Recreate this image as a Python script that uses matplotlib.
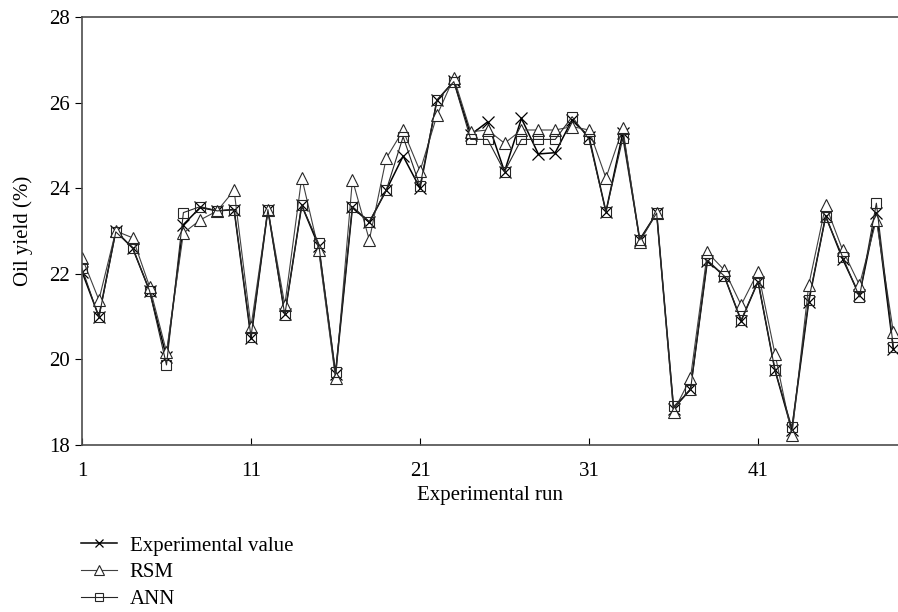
import numpy as np
import matplotlib.pyplot as plt

plt.rcParams['font.family'] = ['Liberation Serif', 'DejaVu Serif']

runs = np.arange(1, 50)

experimental = [22.05, 21.0, 23.0, 22.6, 21.6, 20.05, 23.15, 23.55, 23.47, 23.5,
                20.5, 23.5, 21.05, 23.6, 22.65, 19.65, 23.55, 23.2, 23.95, 24.75,
                24.0, 26.05, 26.5, 25.25, 25.55, 24.39, 25.63, 24.8, 24.83, 25.6,
                25.2, 23.45, 25.3, 22.8, 23.42, 18.85, 19.3, 22.3, 21.95, 20.9,
                21.82, 19.75, 18.35, 21.35, 23.35, 22.35, 21.5, 23.42, 20.25]
rsm = [22.38, 21.39, 23.0, 22.84, 21.7, 20.18, 22.95, 23.26, 23.47, 23.95,
       20.76, 23.5, 21.27, 24.25, 22.56, 19.56, 24.2, 22.79, 24.7, 25.35,
       24.4, 25.7, 26.58, 25.32, 25.36, 25.05, 25.36, 25.36, 25.36, 25.44,
       25.36, 24.24, 25.4, 22.75, 23.42, 18.78, 19.56, 22.5, 22.09, 21.27,
       22.05, 20.13, 18.23, 21.74, 23.6, 22.56, 21.74, 23.26, 20.65]
ann = [22.13, 20.98, 22.98, 22.6, 21.6, 19.87, 23.43, 23.57, 23.47, 23.5,
       20.53, 23.5, 21.04, 23.6, 22.71, 19.71, 23.57, 23.22, 23.95, 25.2,
       24.05, 26.06, 26.49, 25.14, 25.14, 24.39, 25.14, 25.14, 25.14, 25.67,
       25.14, 23.45, 25.17, 22.79, 23.42, 18.9, 19.28, 22.32, 21.95, 20.92,
       21.82, 19.75, 18.41, 21.39, 23.33, 22.4, 21.46, 23.65, 20.3]

x_ticks = [1, 11, 21, 31, 41]
y_ticks = [18, 20, 22, 24, 26, 28]

fig = plt.figure(figsize=(8.98, 6.12), dpi=100)
ax = fig.add_axes([0.0913, 0.2729, 0.9087, 0.6993])

ax.plot(runs, experimental, color='black', lw=1.1, marker='x', ms=8, mew=0.9,
        label='Experimental value')
ax.plot(runs, rsm, color='0.25', lw=0.8, marker='^', ms=9, mfc='white', mec='0.15',
        mew=0.8, label='RSM')
ax.plot(runs, ann, color='0.15', lw=0.8, marker='s', ms=7.5, mfc='none', mec='0.15',
        mew=0.8, label='ANN')

ax.set_xlim(1, 49.28)
ax.set_ylim(18, 28)
ax.set_xticks(x_ticks)
ax.set_yticks(y_ticks)
ax.spines['right'].set_visible(False)
for s in ['left', 'bottom', 'top']:
    ax.spines[s].set_color('0.3')
    ax.spines[s].set_linewidth(1.2)
ax.tick_params(axis='x', direction='in', length=5, labelsize=15, pad=12)
ax.tick_params(axis='y', direction='out', length=5, labelsize=15)
ax.set_xlabel('Experimental run', fontsize=15, labelpad=4)
ax.set_ylabel('Oil yield (%)', fontsize=15, labelpad=12)

fig.legend(loc='upper left', bbox_to_anchor=(0.0905, 0.124), frameon=False,
           fontsize=15, handlelength=1.7, handletextpad=0.62, labelspacing=0.34,
           borderpad=0, borderaxespad=0, markerscale=0.75)

fig.savefig('out.png', dpi=100)
